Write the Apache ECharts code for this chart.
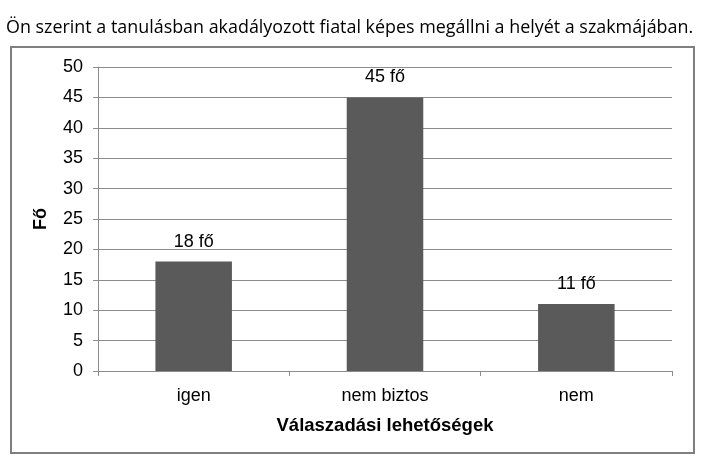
<!DOCTYPE html>
<html lang="hu">
<head>
  <meta charset="UTF-8">
  <title>Válaszadási lehetőségek</title>
  <script src="https://cdn.jsdelivr.net/npm/echarts@6/dist/echarts.min.js"></script>
  <style>
    html, body { margin: 0; padding: 0; background: #fff; }
  </style>
</head>
<body>
<div id="chart" style="width: 717px; height: 468px"></div>
<script>
  const categories = ['igen', 'nem biztos', 'nem'];
  const values = [18, 45, 11];
  const yTicks = [0, 5, 10, 15, 20, 25, 30, 35, 40, 45, 50];

  const chart = echarts.init(document.getElementById('chart'));
  const font = '"Liberation Sans", Arial, sans-serif';

  chart.setOption({
    animation: false,
    title: {
      text: 'Ön szerint a tanulásban akadályozott fiatal képes megállni a helyét a szakmájában.',
      left: 1,
      top: 14,
      textStyle: { fontFamily: '"Open Sans", sans-serif', fontSize: 17.9, fontWeight: 'normal', color: '#000' }
    },
    graphic: [{
      type: 'rect',
      shape: { x: 11, y: 47, width: 683, height: 406 },
      style: { fill: 'none', stroke: '#7f7f7f', lineWidth: 2 },
      silent: true
    }],
    grid: { left: 98, right: 45, top: 67, bottom: 97 },
    xAxis: {
      type: 'category',
      data: categories,
      name: 'Válaszadási lehetőségek',
      nameLocation: 'middle',
      nameGap: 45,
      nameTextStyle: { fontFamily: font, fontSize: 18.5, fontWeight: 'bold', color: '#000' },
      axisLine: { lineStyle: { color: '#8c8c8c', width: 1 } },
      axisTick: { show: true, length: 5, inside: false, lineStyle: { color: '#8c8c8c' } },
      axisLabel: { fontFamily: font, fontSize: 18, color: '#000', margin: 16 }
    },
    yAxis: {
      type: 'value',
      min: yTicks[0],
      max: yTicks[yTicks.length - 1],
      interval: 5,
      name: 'Fő',
      nameLocation: 'middle',
      nameGap: 48,
      nameTextStyle: { fontFamily: font, fontSize: 18, fontWeight: 'bold', color: '#000' },
      axisLine: { show: true, lineStyle: { color: '#8c8c8c' } },
      axisTick: { show: true, length: 5, lineStyle: { color: '#8c8c8c' } },
      axisLabel: { fontFamily: font, fontSize: 18, color: '#000', margin: 15 },
      splitLine: { lineStyle: { color: '#8c8c8c', width: 1 } }
    },
    series: [{
      type: 'bar',
      data: values,
      barWidth: '40%',
      itemStyle: { color: '#5a5a5a' },
      label: {
        show: true,
        position: 'top',
        distance: 11,
        formatter: p => p.value + ' fő',
        fontFamily: font,
        fontSize: 18,
        color: '#000'
      }
    }]
  });
</script>
</body>
</html>
